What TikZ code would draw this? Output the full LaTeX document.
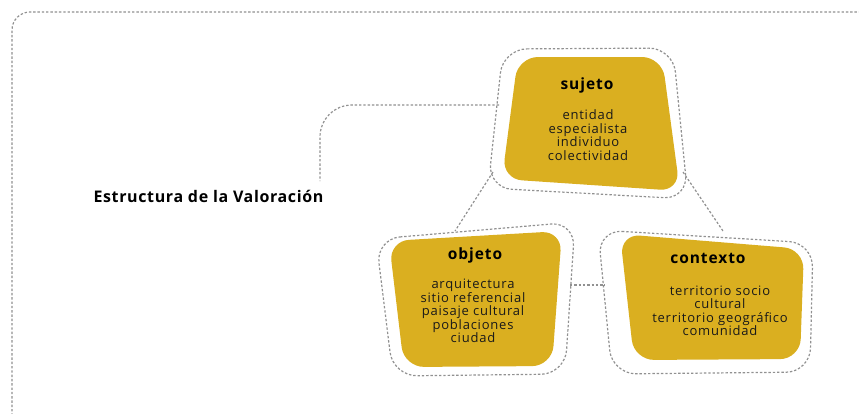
\documentclass[tikz,border=0pt]{standalone}
\usepackage{fontspec}
\setmainfont{Open Sans}[LetterSpace=6]
\newfontfamily\labfont{Open Sans}[LetterSpace=4]
\definecolor{gold}{RGB}{218,175,32}
\definecolor{dotgray}{RGB}{145,145,145}
\begin{document}
\begin{tikzpicture}[x=1pt,y=-1pt]
\useasboundingbox (0,0) rectangle (859,413);
\tikzset{
  blob/.style={fill=gold, rounded corners=20pt},
  halo/.style={draw=dotgray, line width=1.2pt, dash pattern=on 2.4pt off 1.9pt, rounded corners=24pt},
  link/.style={draw=dotgray, line width=1.2pt, dash pattern=on 2.4pt off 1.9pt},
  ttl/.style={font=\fontsize{15.5}{15.5}\selectfont\bfseries},
  items/.style={align=center, text=black!90, font=\fontsize{13}{13.5}\selectfont},
  lbl/.style={anchor=west, font=\labfont\fontsize{16}{16}\selectfont\bfseries}
}
% outer frame
\draw[link, rounded corners=18pt] (12,420) -- (12,12) -- (880,12);
% halos
\draw[halo] (503,49) -- (673,48) -- (688,199) -- (488,188) -- cycle;
\draw[halo] (376,239) -- (575,222) -- (565,374) -- (393,376) -- cycle;
\draw[halo] (598,230) -- (813,243) -- (810,372) -- (612,374) -- cycle;
% blobs
\fill[blob] (518,57) -- (662,57) -- (680,191) -- (502,179) -- cycle;
\fill[blob] (389,241) -- (562,231) -- (552,366) -- (404,367) -- cycle;
\fill[blob] (620,234) -- (804,249) -- (800,359) -- (634,360) -- cycle;
% text
\node[ttl] (sujT) at (587,85) {sujeto};
\node[items] (sujL) at (588,135) {entidad\\especialista\\individuo\\colectividad};
\node[ttl] (objT) at (475,255) {objeto};
\node[items] (objL) at (473,311) {arquitectura\\sitio referencial\\paisaje cultural\\poblaciones\\ciudad};
\node[ttl] (conT) at (708,258) {contexto};
\node[items] (conL) at (720,311) {territorio socio\\cultural\\territorio geográfico\\comunidad};
\node[lbl] (lab) at (90,196) {Estructura de la Valoración};
% connector coordinates
\coordinate (sA) at (499,105);
\coordinate (lA) at (320,181);
\coordinate (sB) at (493,172);
\coordinate (oB) at (455,231);
\coordinate (sC) at (683,172);
\coordinate (cC) at (723,231);
\coordinate (oD) at (570,285);
\coordinate (cD) at (605,285);
\draw[link, rounded corners=32pt] (sA) -- (320,105) -- (lA);
\draw[link] (sB) -- (oB);
\draw[link] (sC) -- (cC);
\draw[link] (oD) -- (cD);
\end{tikzpicture}
\end{document}
